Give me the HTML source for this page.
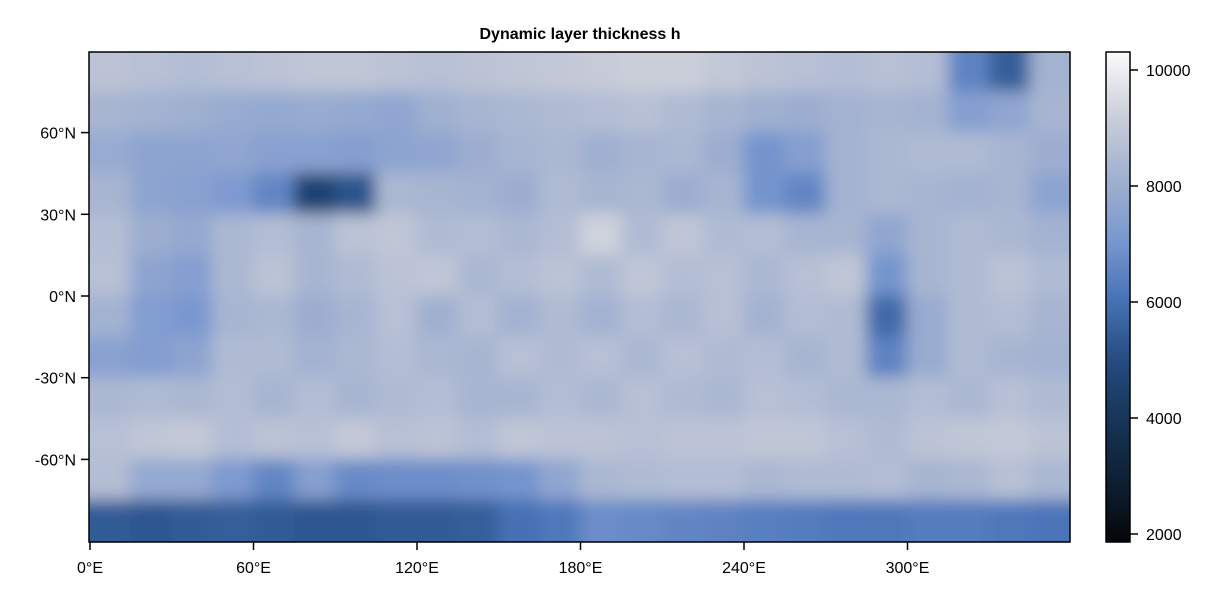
<!DOCTYPE html>
<html><head><meta charset="utf-8"><style>
body{margin:0;background:#fff;font-family:"Liberation Sans",sans-serif}
text{font-family:"Liberation Sans",sans-serif}
</style></head><body>
<svg width="1222" height="600" viewBox="0 0 1222 600">
<defs>
<filter id="blur" filterUnits="userSpaceOnUse" x="0" y="0" width="1222" height="600"><feGaussianBlur stdDeviation="8"/></filter>
<clipPath id="pc"><rect x="89" y="52" width="981" height="490"/></clipPath>
<linearGradient id="cmap" x1="0" y1="1" x2="0" y2="0">
<stop offset="0" stop-color="#050608"/><stop offset="0.12" stop-color="#0e1f33"/><stop offset="0.25" stop-color="#163558"/><stop offset="0.37" stop-color="#244c80"/><stop offset="0.5" stop-color="#4a74b8"/><stop offset="0.62" stop-color="#7a98d0"/><stop offset="0.74" stop-color="#a0b0d0"/><stop offset="0.86" stop-color="#c8ccd8"/><stop offset="1" stop-color="#fafafa"/>
</linearGradient>
</defs>
<text x="580" y="39" text-anchor="middle" font-size="16" font-weight="bold">Dynamic layer thickness h</text>
<g clip-path="url(#pc)"><g id="heat" filter="url(#blur)"></g></g>
<rect x="89" y="52" width="981" height="490" fill="none" stroke="#000" stroke-width="1.5"/>
<g id="xaxis"></g>
<g id="yaxis"></g>
<rect x="1106" y="52" width="24" height="490" fill="url(#cmap)" stroke="#000" stroke-width="1.5"/>
<g id="cbaxis"></g>
</svg>
<script>
const xTicks=[0,60,120,180,240,300];
const yTicks=[60,30,0,-30,-60];
const cbTicks=[2000,4000,6000,8000,10000];
// rows: 90N->90S in 15deg bands; cols: 0..360 in 15deg
const grid=[
[8800,8700,8600,8700,8800,8900,8900,8800,8700,8800,8900,9000,9100,9200,9200,9000,8800,8700,8600,8700,8600,6500,5500,8200],
[8300,8200,8100,7900,7800,7900,7800,7700,8100,8300,8400,8500,8600,8700,8500,8300,8100,8000,8200,8300,8200,7400,7700,8300],
[7900,7600,7600,7700,7500,7500,7400,7600,7700,8000,8300,8400,8100,8300,8400,8000,7000,7400,8200,8400,8500,8500,8300,8000],
[8300,7600,7500,7200,6600,4600,5200,8400,8300,8200,8000,8500,8300,8400,8000,8300,7000,6600,8200,8400,8300,8200,8300,7600],
[8600,8000,7800,8400,8600,8300,8800,8900,8500,8600,8400,8600,9300,8500,8900,8500,8600,8300,8300,7700,8300,8500,8400,8200],
[8700,7600,7400,8400,8800,8300,8500,8800,8900,8400,8600,8800,8500,8900,8600,8700,8400,8700,8900,7000,8300,8500,8800,8500],
[8200,7300,7100,8300,8400,8000,8300,8700,8100,8600,8200,8500,8200,8600,8400,8700,8200,8600,8500,5800,7900,8500,8600,8300],
[7500,7300,7600,8500,8500,8200,8400,8600,8400,8300,8700,8500,8700,8400,8700,8500,8600,8300,8500,6500,7900,8500,8300,8200],
[8400,8500,8400,8600,8300,8600,8300,8500,8600,8300,8300,8600,8400,8700,8500,8400,8700,8600,8400,8400,8600,8400,8700,8500],
[8700,8900,9000,8600,8800,8700,9000,8700,8800,8600,8900,8800,8800,8700,8800,8800,8900,8900,8700,8500,8800,8900,9000,8800],
[8600,7800,7800,7200,6600,7400,6700,6800,6800,6900,7000,7700,8400,8500,8600,8600,8400,8500,8500,8600,8300,8400,8700,8400],
[5400,5300,5400,5500,5400,5300,5300,5400,5400,5500,6000,6200,6800,6700,6600,6500,6400,6300,6200,6200,6300,6300,6200,6100]
];
const NS="http://www.w3.org/2000/svg";
const X0=89,X1=1070,Y0=52,Y1=542;
const lonX=l=>X0+1+(l/360)*(X1-X0);
const latY=l=>296-(l/30)*81.7;
const vmin=1862,vmax=10310;
const cbY=v=>542-(v-vmin)/(vmax-vmin)*490;
const stops=[[0,[5,6,8]],[0.12,[14,31,51]],[0.25,[22,53,88]],[0.37,[36,76,128]],[0.5,[74,116,184]],[0.62,[122,152,208]],[0.74,[160,176,208]],[0.86,[200,204,216]],[1,[250,250,250]]];
function cmap(v){let t=Math.max(0,Math.min(1,(v-vmin)/(vmax-vmin)));for(let i=1;i<stops.length;i++){if(t<=stops[i][0]){const a=stops[i-1],b=stops[i],f=(t-a[0])/(b[0]-a[0]);const c=a[1].map((x,k)=>Math.round(x+(b[1][k]-x)*f));return `rgb(${c})`;}}return 'rgb(250,250,250)';}
const heat=document.getElementById('heat');
const rows=grid.length,cols=grid[0].length;
for(let r=0;r<rows;r++)for(let c=0;c<cols;c++){
 const la=90-r*180/rows,lb=90-(r+1)*180/rows;
 let xa=lonX(c*360/cols),xb=lonX((c+1)*360/cols);
 let y0=latY(la),y1=latY(lb);
 if(c===0)xa-=40; if(c===cols-1)xb+=40;
 if(r===0)y0-=40; if(r===rows-1)y1+=40;
 const e=document.createElementNS(NS,'rect');
 
 
 e.setAttribute('x',xa-0.5);e.setAttribute('y',y0-0.5);
 e.setAttribute('width',xb-xa+1);e.setAttribute('height',y1-y0+1);
 e.setAttribute('fill',cmap(grid[r][c]));
 heat.appendChild(e);
}
function mk(tag,attrs,parent,txt){const e=document.createElementNS(NS,tag);for(const k in attrs)e.setAttribute(k,attrs[k]);if(txt!==undefined)e.textContent=txt;parent.appendChild(e);return e;}
const xa=document.getElementById('xaxis');
xTicks.forEach(t=>{const x=lonX(t);
 const l=mk('line',{x1:x,x2:x,y1:542,y2:550,stroke:'#000','stroke-width':1.5},xa);
 
 
 const tx=mk('text',{x:x,y:573,'text-anchor':'middle','font-size':16},xa,t+'°E');
 
 
});
const ya=document.getElementById('yaxis');
yTicks.forEach(t=>{const y=latY(t);
 const l=mk('line',{x1:81,x2:89,y1:y,y2:y,stroke:'#000','stroke-width':1.5},ya);
 
 
 const tx=mk('text',{x:76,y:y+6,'text-anchor':'end','font-size':16},ya,t+'°N');
 
 
});
const ca=document.getElementById('cbaxis');
cbTicks.forEach(t=>{const y=cbY(t);
 const l=mk('line',{x1:1130,x2:1138,y1:y,y2:y,stroke:'#000','stroke-width':1.5},ca);
 
 
 const tx=mk('text',{x:1146,y:y+6,'font-size':16},ca,t);
 
 
});
</script>
</body></html>
